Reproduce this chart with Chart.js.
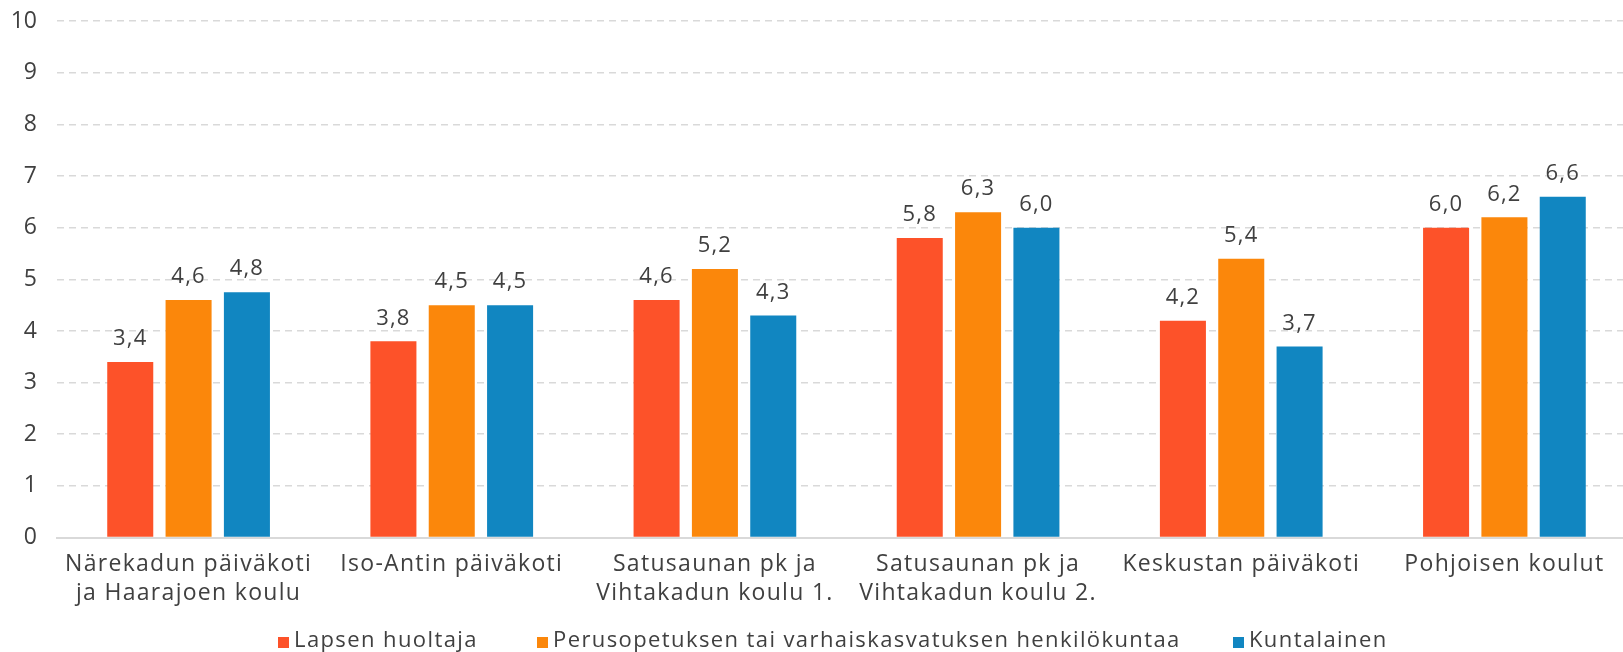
<!DOCTYPE html>
<html>
<head>
<meta charset="utf-8">
<script src="https://cdn.jsdelivr.net/npm/chart.js@4/dist/chart.umd.min.js"></script>
<style>
  html, body { margin: 0; padding: 0; background: #fff; overflow: hidden; }
  #wrap { position: relative; width: 1623px; height: 652px; overflow: hidden; }
  #c { position: absolute; left: 0; top: 0; }
  #legend { position: absolute; left: 0; top: 624px; width: 1623px; height: 28px;
    font-family: "Open Sans", sans-serif; font-size: 22px; color: #404040; letter-spacing: 1.4px; }
  .li { position: absolute; top: 0; white-space: nowrap; line-height: 28px; }
  .box { display: inline-block; width: 11px; height: 11px; margin-right: 5px; vertical-align: -1px; }
</style>
</head>
<body>
<div id="wrap">
  <canvas id="c" width="1636" height="652"></canvas>
  <div id="legend"></div>
</div>
<script>
const categories = [
  ["Närekadun päiväkoti", "ja Haarajoen koulu"],
  ["Iso-Antin päiväkoti"],
  ["Satusaunan pk ja", "Vihtakadun koulu 1."],
  ["Satusaunan pk ja", "Vihtakadun koulu 2."],
  ["Keskustan päiväkoti"],
  ["Pohjoisen koulut"]
];
const seriesNames = ["Lapsen huoltaja", "Perusopetuksen tai varhaiskasvatuksen henkilökuntaa", "Kuntalainen"];
const huoltaja = [3.4, 3.8, 4.6, 5.8, 4.2, 6.0];
const henkilokunta = [4.6, 4.5, 5.2, 6.3, 5.4, 6.2];
const kuntalainen = [4.75, 4.5, 4.3, 6.0, 3.7, 6.6];
const colors = ["#FD5229", "#FB870B", "#1186C1"];
const yTicks = [0,1,2,3,4,5,6,7,8,9,10];

const FONT = "'Open Sans', sans-serif";
const TXT = "#404040";
const SPACING = "1.3px";

const spacingPlugin = {
  id: "spacing",
  beforeInit(chart) { chart.ctx.letterSpacing = SPACING; },
  beforeDraw(chart) {
    chart.ctx.letterSpacing = SPACING;
    const ys = chart.scales.y;
    if (ys && !ys._patched) {
      const orig = ys.drawLabels.bind(ys);
      ys.drawLabels = function (area) {
        const ctx = chart.ctx;
        const prev = ctx.letterSpacing;
        ctx.letterSpacing = "0px";
        orig(area);
        ctx.letterSpacing = prev;
      };
      ys._patched = true;
    }
  }
};

const labelPlugin = {
  id: "valLabels",
  afterDatasetsDraw(chart) {
    const ctx = chart.ctx;
    ctx.save();
    ctx.letterSpacing = "1.2px";
    ctx.font = "22px " + FONT;
    ctx.fillStyle = TXT;
    ctx.textAlign = "center";
    ctx.textBaseline = "middle";
    chart.data.datasets.forEach((ds, i) => {
      const meta = chart.getDatasetMeta(i);
      meta.data.forEach((bar, j) => {
        const v = ds.data[j];
        ctx.fillText(v.toFixed(1).replace(".", ","), bar.x, bar.y - 23);
      });
    });
    ctx.restore();
  }
};

const datasets = [huoltaja, henkilokunta, kuntalainen].map((d, i) => ({
  label: seriesNames[i],
  data: d,
  backgroundColor: colors[i],
  borderWidth: 0,
  categoryPercentage: 0.665,
  barPercentage: 0.789
}));

new Chart(document.getElementById("c"), {
  type: "bar",
  data: { labels: categories, datasets },
  plugins: [spacingPlugin, labelPlugin],
  options: {
    responsive: false,
    animation: false,
    layout: { padding: { top: 0, right: 0, bottom: 31, left: 0 } },
    plugins: { legend: { display: false }, tooltip: { enabled: false } },
    scales: {
      x: {
        grid: { display: false, drawTicks: false },
        border: { display: true, color: "#d9d9d9", width: 2 },
        ticks: { color: TXT, font: { family: FONT, size: 23, lineHeight: 1.25 }, padding: 13, maxRotation: 0, autoSkip: false }
      },
      y: {
        min: 0, max: 10,
        afterBuildTicks(s) { s.ticks = yTicks.map(v => ({ value: v })); },
        afterFit(s) { s.width = 57; },
        grid: { color: "#d9d9d9", lineWidth: 1.5, drawTicks: false },
        border: { display: false, dash: [7, 5] },
        ticks: { color: TXT, font: { family: FONT, size: 23, lineHeight: 0.1 }, padding: 20 }
      }
    }
  }
});

const legend = document.getElementById("legend");
const legendX = [278, 537, 1233];
seriesNames.forEach((n, i) => {
  const d = document.createElement("div");
  d.className = "li";
  d.style.left = legendX[i] + "px";
  d.innerHTML = '<span class="box" style="background:' + colors[i] + '"></span>' + n;
  legend.appendChild(d);
});
</script>
</body>
</html>
